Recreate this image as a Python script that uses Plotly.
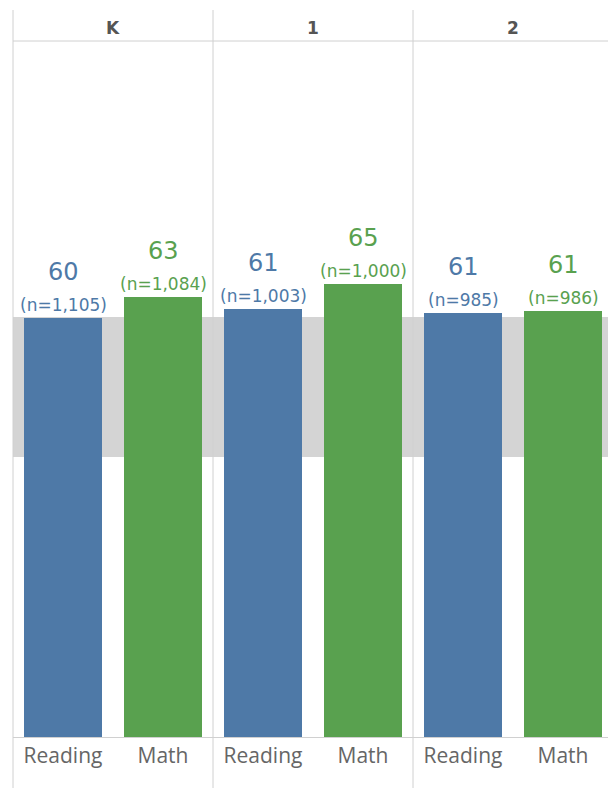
import plotly.graph_objects as go

grades = ["K", "1", "2"]
subjects = ["Reading", "Math"]
reading = [59.9, 61.2, 60.6]
math = [62.9, 64.7, 60.8]
reading_n = [1105, 1003, 985]
math_n = [1084, 1000, 986]
band_low, band_high = 40, 60

BLUE = "#4e79a7"
GREEN = "#59a14f"
W, H = 608, 788
ML, MR, MT, MB = 13, 0, 41, 51
plot_h = H - MT - MB
y_max = plot_h / 7.0
x_range = [-0.5, 5.45]

fig = go.Figure()

xs_r = [2 * i for i in range(len(grades))]
xs_m = [2 * i + 1 for i in range(len(grades))]

fig.add_trace(go.Bar(x=xs_r, y=reading, marker_color=BLUE, width=0.78,
                     marker_line_width=0, hoverinfo="skip"))
fig.add_trace(go.Bar(x=xs_m, y=math, marker_color=GREEN, width=0.78,
                     marker_line_width=0, hoverinfo="skip"))

# reference band
fig.add_shape(type="rect", xref="paper", yref="y", x0=0, x1=1,
              y0=band_low, y1=band_high, fillcolor="#d4d4d4",
              line_width=0, layer="below")

def xp(v):
    return (v - x_range[0]) / (x_range[1] - x_range[0])

# panel separators
for i in range(len(grades)):
    xv = 2 * i - 0.5
    fig.add_shape(type="line", xref="paper", yref="paper",
                  x0=xp(xv), x1=xp(xv), y0=-MB / plot_h, y1=1 + 31 / plot_h,
                  line=dict(color="#d0d0d0", width=1))
# header line
fig.add_shape(type="line", xref="paper", yref="paper", x0=0, x1=1, y0=1, y1=1,
              line=dict(color="#d0d0d0", width=1))

num_font = "DejaVu Sans, sans-serif"
lab_font = "Open Sans, Noto Sans, sans-serif"
for i, g in enumerate(grades):
    fig.add_annotation(x=xp(2 * i + 0.5), xref="paper", y=1 + 12.5 / plot_h, yref="paper",
                       text=g, showarrow=False, yanchor="middle", xanchor="center",
                       font=dict(family="DejaVu Sans", size=17, color="#555555",
                                 weight="bold"))

for xs, vals, ns, col in [(xs_r, reading, reading_n, BLUE), (xs_m, math, math_n, GREEN)]:
    for x, v, n in zip(xs, vals, ns):
        fig.add_annotation(x=x, y=v, xref="x", yref="y", text=f"{v:.0f}",
                           showarrow=False, yanchor="middle", yshift=46,
                           font=dict(family=num_font, size=24, color=col))
        fig.add_annotation(x=x, y=v, xref="x", yref="y", text=f"(n={n:,})",
                           showarrow=False, yanchor="middle", yshift=13,
                           font=dict(family=num_font, size=17, color=col))

fig.update_layout(
    width=W, height=H,
    margin=dict(l=ML, r=MR, t=MT, b=MB, pad=0),
    plot_bgcolor="white", paper_bgcolor="white",
    showlegend=False,
    bargap=0,
    xaxis=dict(range=x_range, tickvals=list(range(6)),
               ticktext=[subjects[k % 2] for k in range(6)],
               showgrid=False, zeroline=False, showline=True,
               linecolor="#d0d0d0", linewidth=1, ticks="", fixedrange=True,
               tickfont=dict(family=lab_font, size=21, color="#666666")),
    yaxis=dict(range=[0, y_max], showgrid=False, zeroline=False,
               showticklabels=False, showline=False, ticks=""),
)

fig.write_html("out.html")
